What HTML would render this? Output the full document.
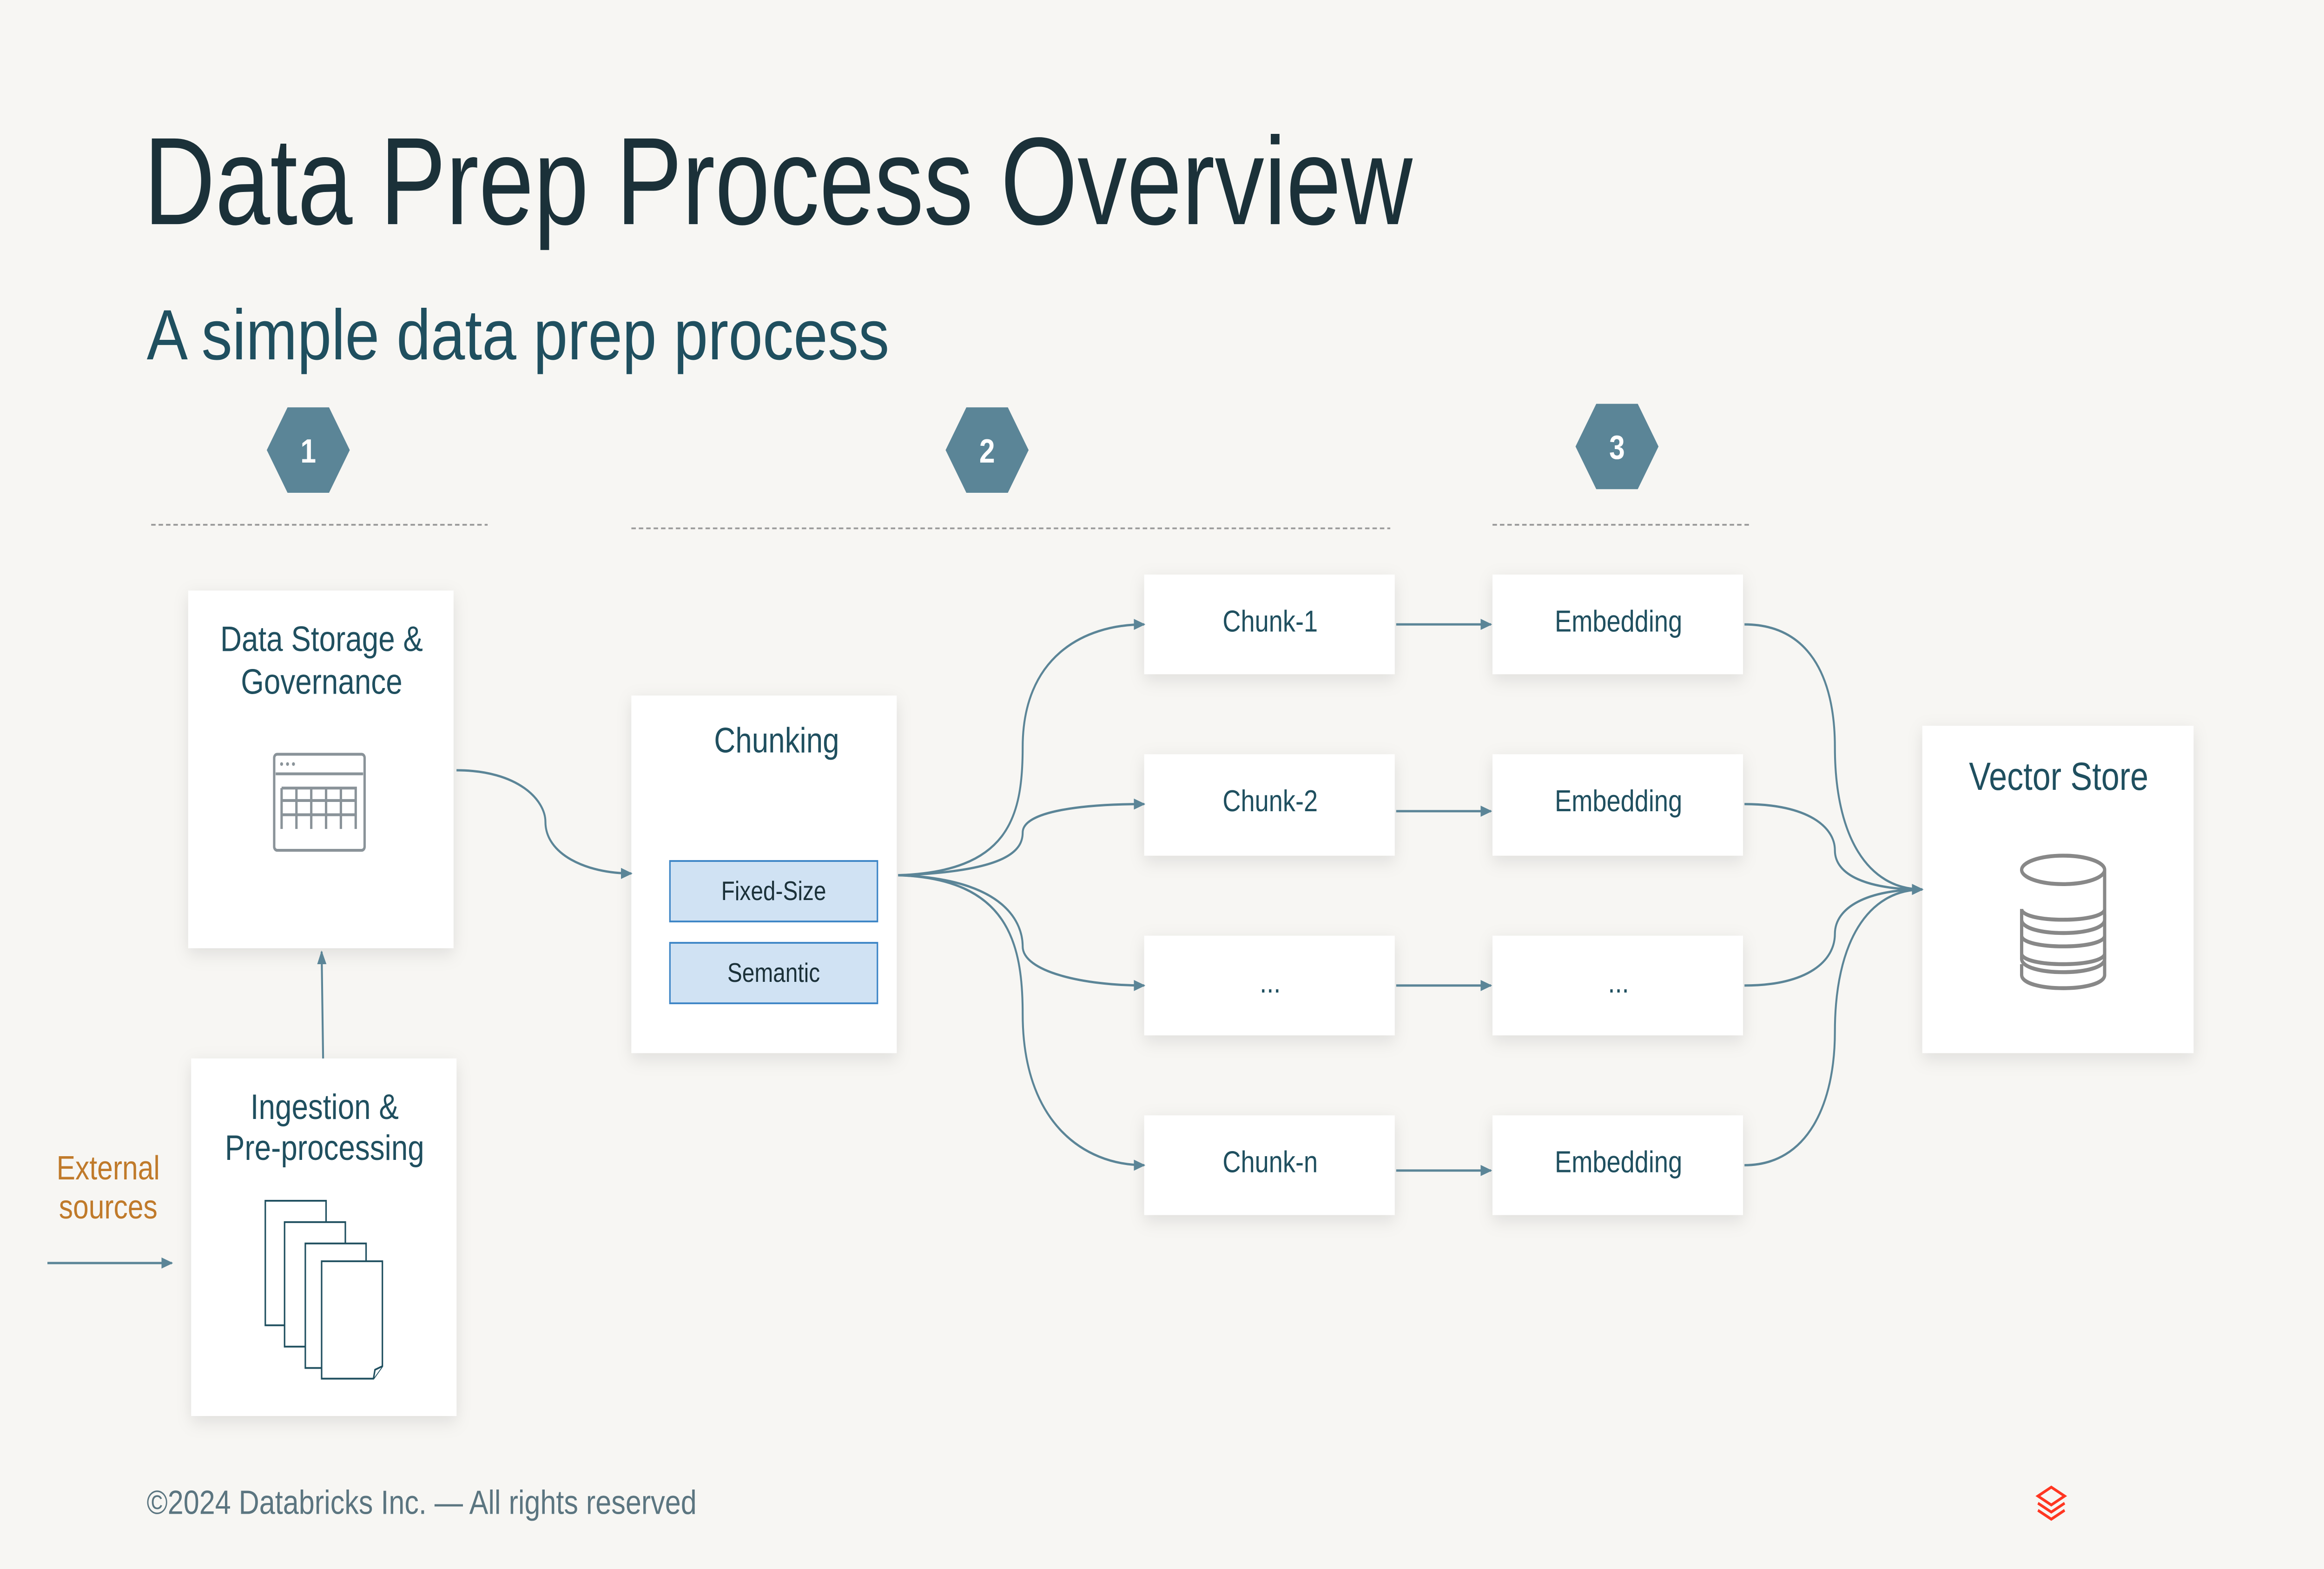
<!DOCTYPE html>
<html><head><meta charset="utf-8"><style>html,body{margin:0;padding:0;background:#f7f6f3;overflow:hidden;width:100%;height:100%}svg{display:block;width:100vw;height:100vh}</style></head>
<body>
<svg viewBox="0 0 1568 882" preserveAspectRatio="none" xmlns="http://www.w3.org/2000/svg" font-family="'Liberation Sans', sans-serif">
<defs>
<filter id="sh" x="-20%" y="-20%" width="140%" height="140%"><feDropShadow dx="0" dy="3" stdDeviation="5" flood-color="#000" flood-opacity="0.10"/></filter>
<marker id="ar" viewBox="0 0 10 10" refX="9" refY="5" markerWidth="6" markerHeight="6" orient="auto"><path d="M0,1 L10,5 L0,9 z" fill="#5b8597"/></marker>
</defs>
<rect width="1568" height="882" fill="#f7f6f3"/>
<text x="97" y="126" font-size="70" fill="#1b3139" textLength="856" lengthAdjust="spacingAndGlyphs">Data Prep Process Overview</text>
<text x="99" y="202" font-size="40" fill="#1f4f5f" textLength="501" lengthAdjust="spacingAndGlyphs">A simple data prep process</text>

<g fill="#5b8597">
<polygon points="180,253 194,229 222,229 236,253 222,277 194,277"/>
<polygon points="638,253 652,229 680,229 694,253 680,277 652,277"/>
<polygon points="1063,251 1077,227 1105,227 1119,251 1105,275 1077,275"/>
</g>
<g fill="#fff" font-size="19" font-weight="bold" text-anchor="middle">
<text x="208" y="260">1</text><text x="666" y="260">2</text><text x="1091" y="258">3</text>
</g>
<g stroke="#9a9a9a" stroke-width="1" stroke-dasharray="3,2">
<line x1="102" y1="295" x2="329" y2="295"/><line x1="426" y1="297" x2="938" y2="297"/><line x1="1007" y1="295" x2="1181" y2="295"/>
</g>

<g fill="#fff" filter="url(#sh)">
<rect x="127" y="332" width="179" height="201"/>
<rect x="129" y="595" width="179" height="201"/>
<rect x="426" y="391" width="179" height="201"/>
<rect x="772" y="323" width="169" height="56"/><rect x="772" y="424" width="169" height="57"/>
<rect x="772" y="526" width="169" height="56"/><rect x="772" y="627" width="169" height="56"/>
<rect x="1007" y="323" width="169" height="56"/><rect x="1007" y="424" width="169" height="57"/>
<rect x="1007" y="526" width="169" height="56"/><rect x="1007" y="627" width="169" height="56"/>
<rect x="1297" y="408" width="183" height="184"/>
</g>

<g fill="#1f4f5f" font-size="20" text-anchor="middle">
<text x="217" y="366">Data Storage &amp;</text><text x="217" y="390">Governance</text>
<text x="219" y="629">Ingestion &amp;</text><text x="219" y="652">Pre-processing</text>
<text x="524" y="423">Chunking</text>
<text x="1389" y="444" font-size="22">Vector Store</text>
</g>
<g fill="#1f4f5f" font-size="17" text-anchor="middle">
<text x="857" y="355">Chunk-1</text><text x="857" y="456">Chunk-2</text><text x="857" y="558">...</text><text x="857" y="659">Chunk-n</text>
<text x="1092" y="355">Embedding</text><text x="1092" y="456">Embedding</text><text x="1092" y="558">...</text><text x="1092" y="659">Embedding</text>
</g>
<rect x="452" y="484" width="140" height="34" fill="#d0e2f3" stroke="#3d85c6" stroke-width="1"/>
<rect x="452" y="530" width="140" height="34" fill="#d0e2f3" stroke="#3d85c6" stroke-width="1"/>
<g fill="#1b3139" font-size="15" text-anchor="middle"><text x="522" y="506">Fixed-Size</text><text x="522" y="552">Semantic</text></g>

<g fill="#c07a2a" font-size="19" text-anchor="middle"><text x="73" y="663">External</text><text x="73" y="685">sources</text></g>

<g fill="none" stroke="#8a9399" stroke-width="1.6">
<rect x="185" y="424" width="61" height="54" rx="2"/>
<line x1="186" y1="435" x2="245" y2="435"/>
<path d="M190,443 H240 V466 M190,443 V466 M200,443 V466 M210,443 V466 M220,443 V466 M230,443 V466 M190,450 H240 M190,458 H240"/>
</g>
<g fill="#8a9399"><circle cx="190" cy="429.5" r="1"/><circle cx="194" cy="429.5" r="1"/><circle cx="198" cy="429.5" r="1"/></g>

<g fill="#fff" stroke="#1f4f5f" stroke-width="1">
<rect x="179" y="675" width="41" height="70"/>
<rect x="192" y="687" width="41" height="70"/>
<rect x="206" y="699" width="41" height="70"/>
<path d="M217,709 H258 V768 L252,775 H217 Z"/>
<path d="M252,775 L253,770 L258,768"/>
</g>

<g fill="none" stroke="#888" stroke-width="2.2">
<ellipse cx="1392" cy="489" rx="28" ry="8"/>
<path d="M1364,511 v6 c0,10 56,10 56,0 v-28"/>
<path d="M1364,511 c0,8 56,8 56,0"/>
<path d="M1364,511 v28 c0,10 56,10 56,0 v-25"/>
<path d="M1364,526 c0,8 56,8 56,0"/>
<path d="M1364,530 v6 c0,8 56,8 56,0"/>
<path d="M1364,542 v6 c0,10 56,10 56,0 v-15"/>
</g>

<g fill="none" stroke="#5b8597" stroke-width="1.3" marker-end="url(#ar)">
<path d="M32,710 H116"/>
<path d="M218,595 L217,535"/>
<path d="M308,433 C350,433 368,450 368,462 C368,480 395,491 426,491"/>
<path d="M606,492 C680,490 690,460 690,420 C690,370 730,351 772,351"/>
<path d="M606,492 C680,490 690,478 690,468 C690,456 730,452 772,452"/>
<path d="M606,492 C680,494 690,520 690,532 C690,546 730,554 772,554"/>
<path d="M606,492 C680,494 690,530 690,570 C690,630 730,655 772,655"/>
<path d="M942,351 H1006"/><path d="M942,456 H1006"/><path d="M942,554 H1006"/><path d="M942,658 H1006"/>
<path d="M1177,351 C1220,351 1238,380 1238,420 C1238,470 1260,500 1297,500"/>
<path d="M1177,452 C1220,452 1238,465 1238,478 C1238,492 1260,500 1297,500"/>
<path d="M1177,554 C1220,554 1238,540 1238,525 C1238,510 1260,500 1297,500"/>
<path d="M1177,655 C1220,655 1238,620 1238,580 C1238,530 1260,500 1297,500"/>
</g>

<text x="99" y="851" font-size="19" fill="#5b7580" textLength="371" lengthAdjust="spacingAndGlyphs">©2024 Databricks Inc. — All rights reserved</text>
<g fill="none" stroke="#ff3621" stroke-width="1.6">
<path d="M1375,841 L1384,836 L1393,841 L1384,846 Z"/>
<path d="M1375,845 L1384,850 L1393,845"/>
<path d="M1375,849 L1384,854 L1393,849"/>
</g>
</svg>
</body></html>
